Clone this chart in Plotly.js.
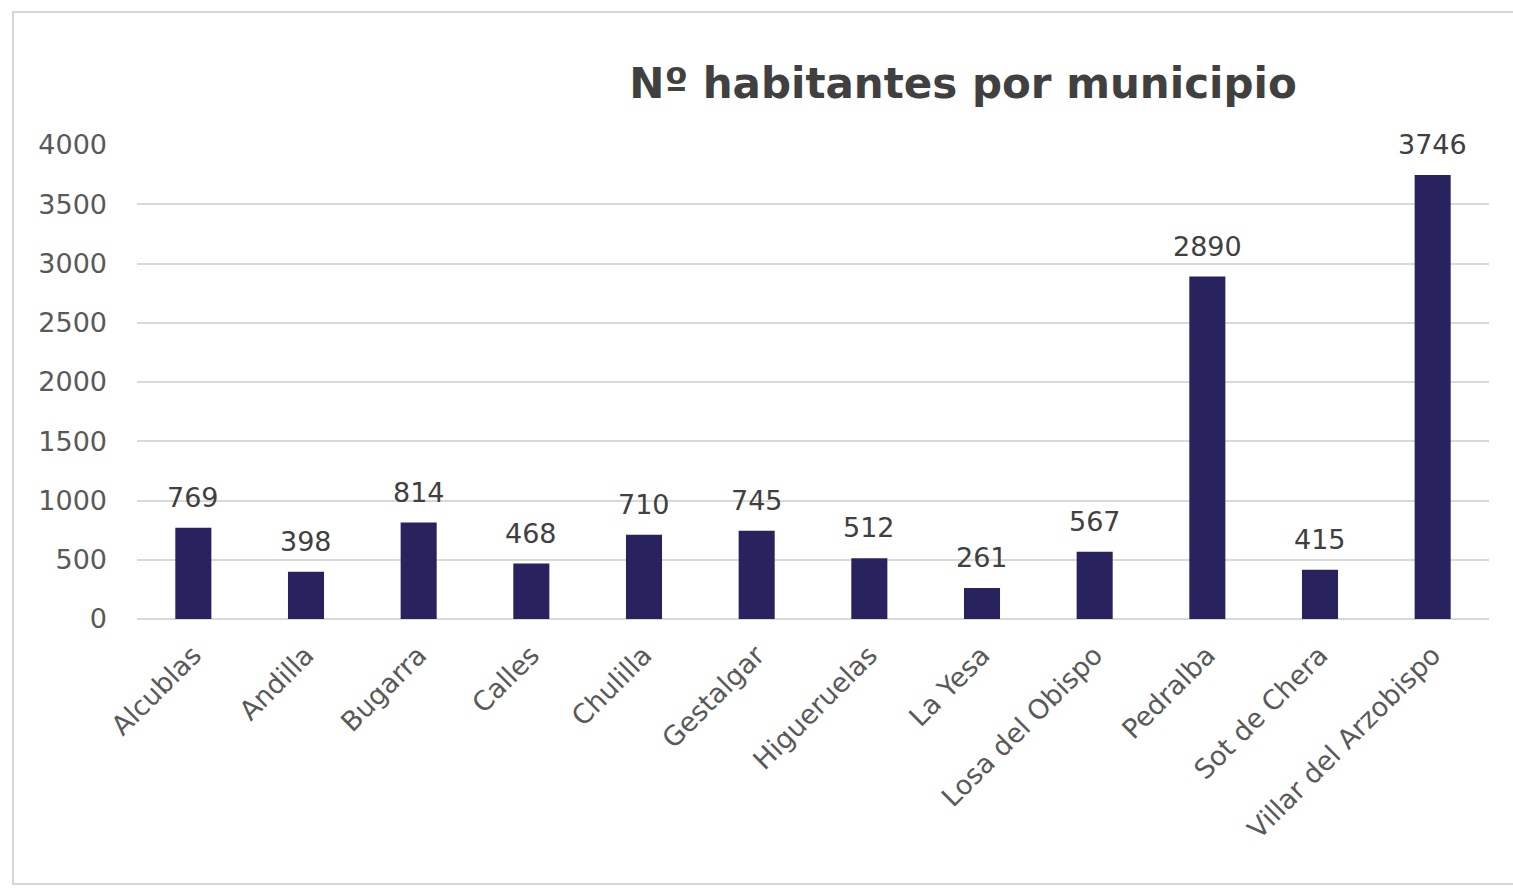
<!DOCTYPE html>
<html>
<head>
<meta charset="utf-8">
<script src="https://cdn.plot.ly/plotly-3.0.1.min.js"></script>
<style>
  html, body { margin: 0; padding: 0; background: #ffffff; overflow: hidden; }
  #frame { position: absolute; left: 12px; top: 11px; width: 1520px; height: 874px;
           border: 2px solid #d6d6d6; box-sizing: border-box; background: #ffffff; }
  #chart { position: absolute; left: 0; top: 0; width: 1513px; height: 893px; }
</style>
</head>
<body>
<div id="frame"></div>
<div id="chart"></div>
<script>
const municipios = ["Alcublas", "Andilla", "Bugarra", "Calles", "Chulilla", "Gestalgar",
  "Higueruelas", "La Yesa", "Losa del Obispo", "Pedralba", "Sot de Chera", "Villar del Arzobispo"];
const habitantes = [769, 398, 814, 468, 710, 745, 512, 261, 567, 2890, 415, 3746];
const yTicks = [0, 500, 1000, 1500, 2000, 2500, 3000, 3500, 4000];
const chartTitle = "Nº habitantes por municipio";

const fontFam = "'DejaVu Sans', Verdana, sans-serif";

const trace = {
  type: "bar",
  x: municipios,
  y: habitantes,
  marker: { color: "#28225e" },
  hoverinfo: "x+y"
};

const annotations = municipios.map((m, i) => ({
  x: m, y: habitantes[i], xref: "x", yref: "y",
  text: String(habitantes[i]), showarrow: false,
  yanchor: "bottom", yshift: 13,
  font: { family: fontFam, size: 27, color: "#404040" }
}));

const layout = {
  width: 1513, height: 893,
  paper_bgcolor: "rgba(0,0,0,0)",
  plot_bgcolor: "rgba(0,0,0,0)",
  margin: { l: 137, r: 24, t: 145, b: 274 },
  bargap: 0.68,
  showlegend: false,
  title: {
    text: "<b>" + chartTitle + "</b>",
    xref: "container", yref: "container",
    x: 963 / 1513, xanchor: "center",
    y: 1 - 83 / 893, yanchor: "middle",
    font: { family: fontFam, size: 42, color: "#404040" }
  },
  xaxis: {
    type: "category",
    tickangle: -45,
    showgrid: false,
    showline: false,
    ticks: "",
    ticklabelstandoff: 14,
    tickfont: { family: fontFam, size: 27, color: "#595959" }
  },
  yaxis: {
    range: [0, 4000],
    tickmode: "array",
    tickvals: yTicks,
    ticktext: yTicks.map(String),
    showgrid: true,
    gridcolor: "#d9d9d9",
    gridwidth: 2,
    zeroline: true,
    zerolinecolor: "#d9d9d9",
    zerolinewidth: 2,
    showline: false,
    ticks: "",
    ticklabelstandoff: 29,
    tickfont: { family: fontFam, size: 27, color: "#595959" }
  },
  annotations: annotations
};

Plotly.newPlot("chart", [trace], layout, { displayModeBar: false, staticPlot: true });
</script>
</body>
</html>
